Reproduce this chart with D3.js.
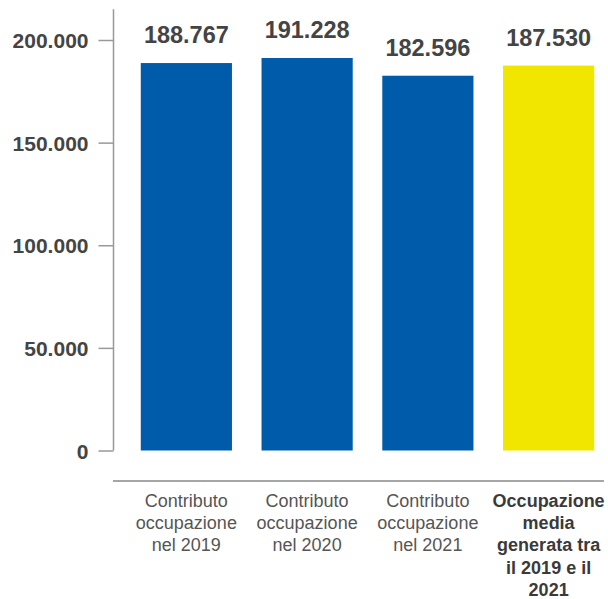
<!DOCTYPE html>
<html>
<head>
<meta charset="utf-8">
<script src="https://cdn.jsdelivr.net/npm/d3@7"></script>
<style>
  html, body { margin: 0; padding: 0; background: #fff; }
  svg { display: block; font-family: "Liberation Sans", Arial, Helvetica, sans-serif; }
</style>
</head>
<body>
<svg id="chart" width="608" height="599"></svg>
<script>
// Chart data
const categories = [
  ["Contributo", "occupazione", "nel 2019"],
  ["Contributo", "occupazione", "nel 2020"],
  ["Contributo", "occupazione", "nel 2021"],
  ["Occupazione", "media", "generata tra", "il 2019 e il", "2021"]
];
const values = [188767, 191228, 182596, 187530];
const valueLabels = ["188.767", "191.228", "182.596", "187.530"];
const highlight = [false, false, false, true];
const tickValues = [0, 50000, 100000, 150000, 200000];
const tickLabels = ["0", "50.000", "100.000", "150.000", "200.000"];
const axisTop = 215000;

const svg = d3.select("#chart");

const x = d3.scaleBand()
  .domain(d3.range(values.length))
  .range([113, 622])
  .paddingInner(0.245)
  .paddingOuter(0.23);

const y = d3.scaleLinear()
  .domain([0, 200000])
  .range([450.5, 40]);

// Y axis
const yAxis = d3.axisLeft(y)
  .tickValues(tickValues)
  .tickFormat((d, i) => tickLabels[i])
  .tickSize(15)
  .tickSizeOuter(0)
  .tickPadding(10);

const gy = svg.append("g")
  .attr("transform", "translate(113.5,0)")
  .call(yAxis);
gy.select(".domain").remove();
gy.selectAll(".tick line").attr("stroke", "#999").attr("stroke-width", 1.5);
gy.selectAll(".tick text")
  .attr("fill", "#444")
  .attr("font-size", "21px")
  .attr("font-weight", "bold")
  .attr("dy", "0.36em")
  .attr("font-family", "'Liberation Sans', Arial, sans-serif");

// Vertical axis line
svg.append("line")
  .attr("x1", 113.5).attr("x2", 113.5)
  .attr("y1", y(axisTop)).attr("y2", y(0))
  .attr("stroke", "#999").attr("stroke-width", 1.5);

// Baseline under the bars
svg.append("line")
  .attr("x1", 113).attr("x2", 604)
  .attr("y1", 481).attr("y2", 481)
  .attr("stroke", "#888").attr("stroke-width", 1.5);

// Bars
svg.append("g").selectAll("rect")
  .data(values)
  .join("rect")
  .attr("x", (d, i) => x(i))
  .attr("width", x.bandwidth())
  .attr("y", d => y(d))
  .attr("height", d => y(0) - y(d))
  .attr("fill", (d, i) => highlight[i] ? "#F0E600" : "#005BAA");

// Value labels
svg.append("g").selectAll("text")
  .data(values)
  .join("text")
  .attr("x", (d, i) => x(i) + x.bandwidth() / 2)
  .attr("y", d => y(d) - 20)
  .attr("text-anchor", "middle")
  .attr("fill", "#444")
  .attr("font-size", "23.5px")
  .attr("font-weight", "bold")
  .text((d, i) => valueLabels[i]);

// Category labels
const cat = svg.append("g").selectAll("text")
  .data(categories)
  .join("text")
  .attr("x", (d, i) => x(i) + x.bandwidth() / 2)
  .attr("y", 507)
  .attr("text-anchor", "middle")
  .attr("font-size", "18px")
  .attr("font-weight", (d, i) => highlight[i] ? "bold" : "normal")
  .attr("fill", (d, i) => highlight[i] ? "#3a3a3a" : "#555");

cat.each(function(lines) {
  const t = d3.select(this);
  const cx = t.attr("x");
  lines.forEach((line, j) => {
    t.append("tspan")
      .attr("x", cx)
      .attr("dy", j === 0 ? 0 : 22.2)
      .text(line);
  });
});
</script>
</body>
</html>
